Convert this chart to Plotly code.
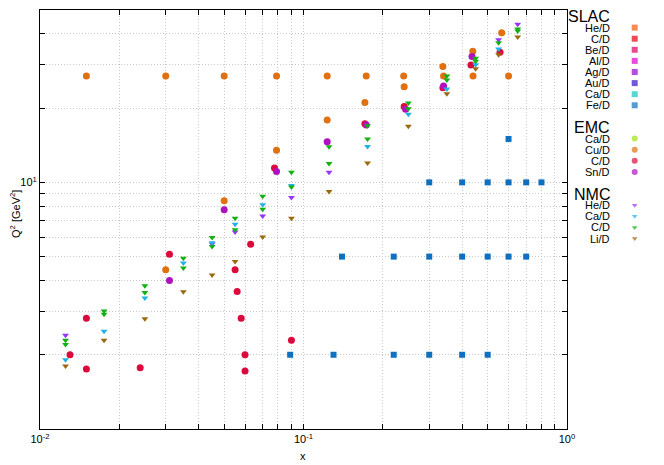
import math
import plotly.graph_objects as go

# ---------------- data ----------------
# SLAC (only Fe/D points visible; other nuclei hidden underneath)
slac_fe_x = [0.089, 0.13, 0.22, 0.30, 0.40, 0.50,
             0.14, 0.22, 0.30, 0.40, 0.50, 0.60, 0.70,
             0.30, 0.40, 0.50, 0.60, 0.70, 0.80,
             0.60]
slac_fe_q2 = [2, 2, 2, 2, 2, 2,
              5, 5, 5, 5, 5, 5, 5,
              10, 10, 10, 10, 10, 10,
              15]

# EMC
emc_ca_x = []
emc_ca_q2 = []
emc_cu_x = [0.015, 0.030, 0.050, 0.079, 0.123, 0.173, 0.240, 0.340, 0.440, 0.600,
            0.030, 0.050, 0.079, 0.123, 0.171, 0.241, 0.338, 0.439, 0.565]
emc_cu_q2 = [27.0, 27.0, 27.0, 27.0, 27.0, 27.0, 27.0, 27.0, 27.0, 27.0,
             4.42, 8.42, 13.5, 17.9, 21.1, 24.4, 29.5, 34.0, 40.4]
emc_c_x = [0.013, 0.015, 0.015, 0.024, 0.031, 0.055, 0.056, 0.058, 0.060, 0.060,
           0.063, 0.0776, 0.090, 0.171, 0.241, 0.338, 0.432, 0.557]
emc_c_q2 = [2.00, 2.81, 1.75, 1.77, 5.11, 4.42, 3.61, 2.81, 2.00, 1.72,
            5.61, 11.43, 2.29, 17.3, 20.3, 24.2, 29.9, 33.7]
emc_sn_x = [0.031, 0.050, 0.079, 0.123, 0.173, 0.244, 0.340, 0.436]
emc_sn_q2 = [4.00, 7.74, 11.08, 14.6, 17.1, 19.8, 24.6, 32.4]

# NMC
nmc_he_x = [0.0125, 0.045, 0.055, 0.07, 0.09, 0.125, 0.55, 0.65]
nmc_he_q2 = [2.40, 5.62, 6.29, 7.30, 8.69, 10.98, 37.9, 43.8]
nmc_ca_x = [0.0125, 0.0175, 0.025, 0.035, 0.045, 0.055, 0.07, 0.09,
            0.175, 0.25, 0.35, 0.45, 0.55]
nmc_ca_q2 = [1.91, 2.49, 3.40, 4.71, 5.69, 6.77, 8.11, 9.72,
             13.97, 18.87, 23.9, 30.0, 34.7]
nmc_c_x = [0.0125, 0.0175, 0.025, 0.035, 0.045, 0.055, 0.07, 0.09, 0.125, 0.175,
           0.25, 0.35, 0.45, 0.55, 0.65,
           0.0125, 0.0175, 0.025, 0.035, 0.045, 0.055, 0.07, 0.09, 0.125, 0.175,
           0.25, 0.35, 0.45, 0.65]
nmc_c_q2 = [2.29, 3.01, 3.81, 4.92, 5.98, 7.16, 8.78, 10.98, 13.95, 16.96,
            20.97, 27.0, 31.9, 36.8, 41.9,
            2.20, 2.92, 3.58, 4.50, 5.50, 6.42, 7.79, 9.57, 11.94, 14.98,
            19.9, 26.0, 31.0, 41.1]
nmc_li_x = [0.0125, 0.0175, 0.025, 0.035, 0.045, 0.055, 0.07, 0.09, 0.125, 0.175,
            0.25, 0.35, 0.45, 0.55, 0.65]
nmc_li_q2 = [1.80, 2.29, 2.80, 3.60, 4.21, 4.78, 6.00, 7.16, 9.19, 11.97,
             16.9, 22.9, 28.9, 32.9, 38.9]

# groups: (title, [(name, x, q2, color, symbol)])
groups = [
    ("SLAC", [
        ("He/D", [], [], "#ee5a0e", "square"),
        ("C/D", [], [], "#e0000e", "square"),
        ("Be/D", [], [], "#dc0064", "square"),
        ("Al/D", [], [], "#dd00cc", "square"),
        ("Ag/D", [], [], "#9400d3", "square"),
        ("Au/D", [], [], "#3a10c8", "square"),
        ("Ca/D", [], [], "#10c8c0", "square"),
        ("Fe/D", slac_fe_x, slac_fe_q2, "#1070c0", "square"),
    ]),
    ("EMC", [
        ("Ca/D", emc_ca_x, emc_ca_q2, "#9ee010", "circle"),
        ("Cu/D", emc_cu_x, emc_cu_q2, "#e07010", "circle"),
        ("C/D", emc_c_x, emc_c_q2, "#dc0a3c", "circle"),
        ("Sn/D", emc_sn_x, emc_sn_q2, "#b010c0", "circle"),
    ]),
    ("NMC", [
        ("He/D", nmc_he_x, nmc_he_q2, "#9933ff", "triangle-down"),
        ("Ca/D", nmc_ca_x, nmc_ca_q2, "#22b0e8", "triangle-down"),
        ("C/D", nmc_c_x, nmc_c_q2, "#12b012", "triangle-down"),
        ("Li/D", nmc_li_x, nmc_li_q2, "#9a6a10", "triangle-down"),
    ]),
]

main_size = {"square": 6, "circle": 7, "triangle-down": 6}
leg_size = {"square": 6, "circle": 6, "triangle-down": 5}

FONT = "Liberation Sans, Arial, sans-serif"

# window geometry (page body has an 8px default margin -> compensate)
OFF = 8
WIN_W, WIN_H = 664, 465
PX_LEFT, PX_RIGHT, PX_TOP, PX_BOTTOM = 40, 567, 10, 429   # plot frame, window px
W, H = WIN_W - OFF, WIN_H - OFF
ML, MT = PX_LEFT - OFF, PX_TOP - OFF
MR = 0
MB = H - (PX_BOTTOM - OFF)
pw = W - ML - MR
ph = H - MT - MB
xdom_end = (PX_RIGHT - PX_LEFT) / pw


def paper_x(px):
    return (px - PX_LEFT) / pw


def paper_y(py):
    return (PX_BOTTOM - py) / ph


fig = go.Figure()
for title, series in groups:
    for name, xs, ys, col, sym in series:
        fig.add_trace(go.Scatter(
            x=xs, y=ys, mode="markers", name=f"{title} {name}",
            marker=dict(symbol=sym, size=main_size[sym], color=col,
                        line=dict(width=0)),
            xaxis="x", yaxis="y", showlegend=False))

# ---------- custom legend (text left, symbol right, as in reference) ----------
annotations = []
leg_x, leg_y, leg_c, leg_s, leg_sz = [], [], [], [], []
row = 0
step = 11.1
y0 = 16.5
for gi, (title, series) in enumerate(groups):
    ty = y0 + row * step
    annotations.append(dict(xref="x2", yref="y2", x=612, y=ty, text=title,
                            showarrow=False, xanchor="right", yanchor="middle",
                            font=dict(family=FONT, size=16, color="black")))
    row += 1
    for name, xs, ys, col, sym in series:
        yy = y0 + row * step
        annotations.append(dict(xref="x2", yref="y2", x=612, y=yy, text=name,
                                showarrow=False, xanchor="right", yanchor="middle",
                                font=dict(family=FONT, size=11, color="black")))
        leg_x.append(634.7)
        leg_y.append(yy)
        leg_c.append(col)
        leg_s.append(sym)
        leg_sz.append(leg_size[sym])
        row += 1
    row += 1

fig.add_trace(go.Scatter(x=leg_x, y=leg_y, mode="markers", xaxis="x2", yaxis="y2",
                         marker=dict(color=leg_c, symbol=leg_s, size=leg_sz,
                                     line=dict(width=0)),
                         showlegend=False, hoverinfo="skip"))

# axis titles
annotations.append(dict(xref="paper", yref="paper", x=paper_x(303), y=paper_y(456),
                        text="x", showarrow=False, xanchor="center", yanchor="middle",
                        font=dict(family=FONT, size=11, color="black")))
annotations.append(dict(xref="paper", yref="paper", x=paper_x(15), y=paper_y(214),
                        text="Q<sup>2</sup> [GeV<sup>2</sup>]", textangle=-90,
                        showarrow=False, xanchor="center", yanchor="middle",
                        font=dict(family=FONT, size=11, color="black")))

# ticks / grid
x_tickvals = []
x_ticktext = []
for dec in (0.01, 0.1):
    for m in range(1, 10):
        v = m * dec
        x_tickvals.append(v)
        x_ticktext.append(f"10<sup>{int(round(math.log10(v)))}</sup>" if m == 1 else " ")
x_tickvals.append(1.0)
x_ticktext.append("10<sup>0</sup>")

y_tickvals = [1, 2, 3, 4, 5, 6, 7, 8, 9, 10, 20, 30, 40, 50]
y_ticktext = [" " if v != 10 else "10<sup>1</sup>" for v in y_tickvals]

axis_common = dict(showline=True, linecolor="black", linewidth=1, mirror="ticks",
                   ticks="inside", ticklen=5, tickcolor="black", tickwidth=1,
                   showgrid=True, gridcolor="#c8c8c8", griddash="1px,2px", gridwidth=1,
                   zeroline=False, tickmode="array", automargin=False, tickangle=0,
                   tickfont=dict(family=FONT, size=11, color="black"))

fig.update_layout(
    width=W, height=H,
    margin=dict(l=ML, r=MR, t=MT, b=MB, pad=0, autoexpand=False),
    paper_bgcolor="white", plot_bgcolor="white",
    showlegend=False,
    xaxis=dict(type="log", range=[-2, 0], domain=[0, xdom_end],
               tickvals=x_tickvals, ticktext=x_ticktext, anchor="y", **axis_common),
    yaxis=dict(type="log", range=[0, math.log10(50)], domain=[0, 1],
               tickvals=y_tickvals, ticktext=y_ticktext, anchor="x", **axis_common),
    xaxis2=dict(domain=[xdom_end, 1], range=[PX_RIGHT, WIN_W], visible=False,
                anchor="y2", fixedrange=True),
    yaxis2=dict(domain=[0, 1], range=[PX_BOTTOM, PX_TOP], visible=False,
                anchor="x2", fixedrange=True),
    annotations=annotations,
)

fig.write_html("out.html")
